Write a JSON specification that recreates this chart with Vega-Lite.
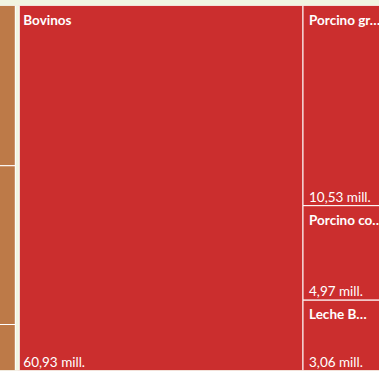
{
  "$schema": "https://vega.github.io/schema/vega-lite/v6.json",
  "width": 379,
  "height": 365,
  "autosize": {"type": "none"},
  "padding": {"left": 0, "right": 0, "top": 5.5, "bottom": 0},
  "background": "#F1F5E1",
  "config": {
    "view": {"stroke": null},
    "locale": {
      "number": {"decimal": ",", "thousands": ".", "grouping": [3], "currency": ["", " mill."]}
    }
  },
  "data": {
    "values": [
      {"parent": "Grupo 1", "col": 1, "fila": "1a", "name": "Otro 1", "value": 8.78},
      {"parent": "Grupo 1", "col": 1, "fila": "1b", "name": "Otro 2", "value": 8.7},
      {"parent": "Grupo 1", "col": 1, "fila": "1c", "name": "Otro 3", "value": 2.52},
      {"parent": "Grupo 2", "col": 2, "fila": "2a", "name": "Bovinos", "value": 60.93},
      {"parent": "Grupo 2", "col": 3, "fila": "3a", "name": "Porcino gr…", "value": 10.53},
      {"parent": "Grupo 2", "col": 3, "fila": "3b", "name": "Porcino co…", "value": 4.97},
      {"parent": "Grupo 2", "col": 3, "fila": "3c", "name": "Leche B…", "value": 3.06},
      {"parent": "Grupo 2", "col": 3, "fila": "3c", "name": "Otros", "value": 0.64}
    ]
  },
  "transform": [
    {"stack": "value", "groupby": [], "sort": [{"field": "col", "order": "ascending"}, {"field": "value", "order": "descending"}], "as": ["x0", "x1"]},
    {"stack": "value", "groupby": ["col"], "offset": "normalize", "sort": [{"field": "value", "order": "descending"}], "as": ["y0", "y1"]},
    {"joinaggregate": [{"op": "min", "field": "x0", "as": "gx0"}, {"op": "max", "field": "x1", "as": "gx1"}], "groupby": ["col"]},
    {"joinaggregate": [{"op": "min", "field": "y0", "as": "sy0"}, {"op": "max", "field": "y1", "as": "sy1"}], "groupby": ["fila"]},
    {"window": [{"op": "row_number", "as": "rk"}], "sort": [{"field": "value", "order": "descending"}], "groupby": ["fila"]}
  ],
  "layer": [
    {
      "transform": [{"filter": "datum.rk == 1"}],
      "mark": {"type": "rect", "stroke": "white", "strokeWidth": 1, "clip": true},
      "encoding": {
        "x": {"field": "gx0", "type": "quantitative", "scale": {"domain": [16.311, 97.138], "nice": false, "zero": false}, "axis": null},
        "x2": {"field": "gx1"},
        "y": {"field": "sy0", "type": "quantitative", "scale": {"domain": [0, 1], "reverse": true, "nice": false, "zero": false}, "axis": null},
        "y2": {"field": "sy1"},
        "color": {"field": "parent", "type": "nominal", "scale": {"domain": ["Grupo 1", "Grupo 2"], "range": ["#BD7A48", "#CB2E2E"]}, "legend": null}
      }
    },
    {
      "transform": [{"filter": "datum.rk > 1"}],
      "mark": {"type": "rect", "stroke": "white", "strokeWidth": 1, "clip": true},
      "encoding": {
        "x": {"field": "x0", "type": "quantitative"},
        "x2": {"field": "x1"},
        "y": {"field": "sy0", "type": "quantitative"},
        "y2": {"field": "sy1"},
        "color": {"field": "parent", "type": "nominal", "legend": null}
      }
    },
    {
      "transform": [{"aggregate": [{"op": "min", "field": "x0", "as": "px0"}], "groupby": ["parent"]}],
      "mark": {"type": "rule", "color": "white", "strokeWidth": 5, "clip": true},
      "encoding": {"x": {"field": "px0", "type": "quantitative"}}
    },
    {
      "transform": [{"aggregate": [{"op": "min", "field": "x0", "as": "px0"}], "groupby": ["parent"]}],
      "mark": {"type": "rule", "color": "#F1F5E1", "strokeWidth": 3, "clip": true},
      "encoding": {"x": {"field": "px0", "type": "quantitative"}}
    },
    {
      "transform": [{"filter": "datum.rk == 1"}],
      "mark": {"type": "text", "align": "left", "baseline": "alphabetic", "dx": 6, "dy": 19, "font": "Lato", "fontSize": 13.5, "fontWeight": "bold", "color": "white", "clip": true},
      "encoding": {
        "x": {"field": "gx0", "type": "quantitative"},
        "y": {"field": "sy0", "type": "quantitative"},
        "text": {"field": "name", "type": "nominal"}
      }
    },
    {
      "transform": [{"filter": "datum.rk == 1"}],
      "mark": {"type": "text", "align": "left", "baseline": "alphabetic", "dx": 6, "dy": -4, "font": "Lato", "fontSize": 13.5, "color": "white", "clip": true},
      "encoding": {
        "x": {"field": "gx0", "type": "quantitative"},
        "y": {"field": "sy1", "type": "quantitative"},
        "text": {"field": "value", "type": "quantitative", "format": "$.2f"}
      }
    }
  ]
}
